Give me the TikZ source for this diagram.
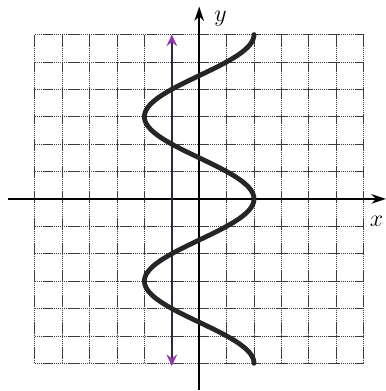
\documentclass[tikz,border=0pt]{standalone}
\usetikzlibrary{arrows.meta}
\definecolor{gridgray}{RGB}{60,60,60}
\definecolor{vline}{RGB}{50,40,60}
\definecolor{tipcol}{RGB}{150,55,175}
\begin{document}
\begin{tikzpicture}[x=1cm,y=1cm,
  gridline/.style={gridgray,line width=0.8pt,dash pattern=on 1.4pt off 0.6pt},
  axisline/.style={black,line width=1.8pt,-{Stealth[length=15pt,width=10pt]}},
  curveline/.style={black!85,line width=5pt,line cap=round},
  purpleline/.style={vline,line width=1.8pt,{Stealth[length=12pt,width=11pt,inset=4pt,color=tipcol]}-{Stealth[length=12pt,width=11pt,inset=4pt,color=tipcol]}},
  lab/.style={font=\fontsize{26}{28}\selectfont}]
\useasboundingbox (-7.27,-7.01) rectangle (6.81,7.26);
\draw[gridline] (-6,-6) grid (6,6);
\coordinate (xl) at (-6.97,0);
\coordinate (xr) at (6.81,0);
\coordinate (yb) at (0,-6.97);
\coordinate (yt) at (0,7.02);
\draw[axisline] (xl) -- (xr);
\draw[axisline] (yb) -- (yt);
\node[lab] (xlab) at (6.47,-0.8) {$x$};
\node[lab] (ylab) at (0.78,6.58) {$y$};
\coordinate (pt) at (-1,6.0);
\coordinate (pb) at (-1,-6.1);
\draw[purpleline] (pb) -- (pt);
\draw[curveline,domain=-6:6,samples=200,smooth,variable=\t] plot ({2*cos(60*\t)},{\t});
\end{tikzpicture}
\end{document}
